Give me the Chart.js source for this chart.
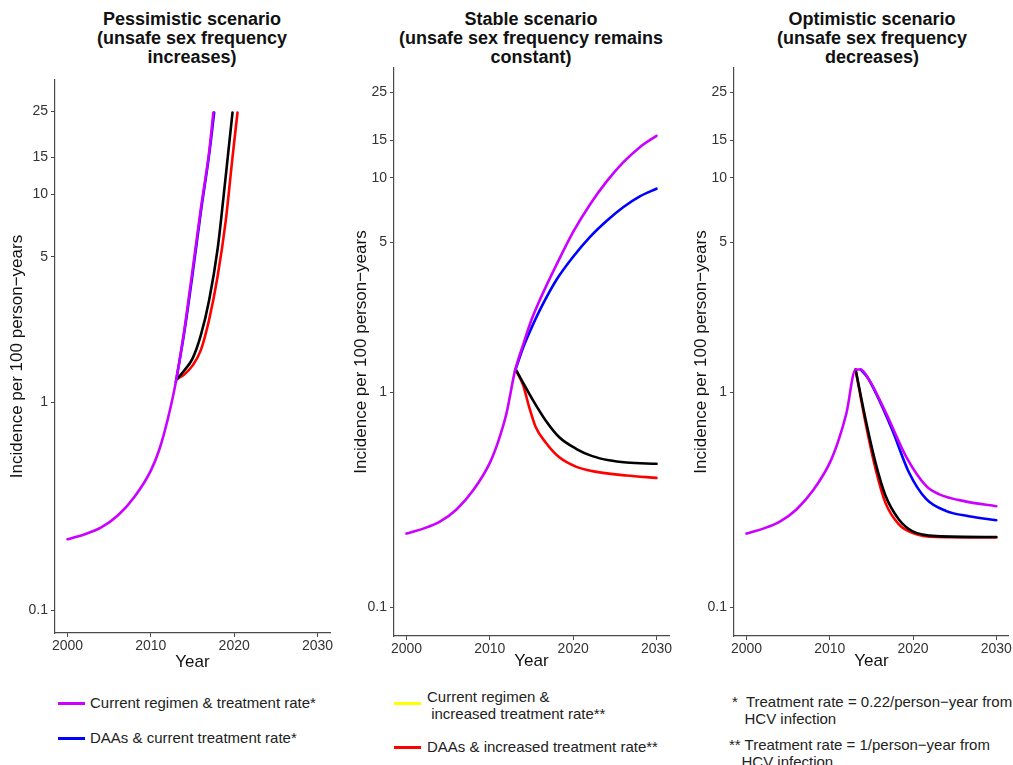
<!DOCTYPE html>
<html>
<head>
<meta charset="utf-8">
<script src="https://cdn.jsdelivr.net/npm/chart.js@4.4.1/dist/chart.umd.min.js"></script>
<style>
  body { margin: 0; background: #fff; font-family: "Liberation Sans", Arial, sans-serif; }
  #wrap { position: relative; width: 1013px; height: 765px; overflow: hidden; }
  canvas { position: absolute; }
  .ttl { position: absolute; top: 10px; width: 340px; text-align: center; font-weight: bold;
         font-size: 18px; line-height: 19px; color: #111; }
  .leg { position: absolute; font-size: 15px; line-height: 17px; color: #222; white-space: pre; }
  .sw { position: absolute; height: 2.5px; width: 27px; }
</style>
</head>
<body>
<div id="wrap">
  <div class="ttl" style="left:22px">Pessimistic scenario<br>(unsafe sex frequency<br>increases)</div>
  <div class="ttl" style="left:361px">Stable scenario<br>(unsafe sex frequency remains<br>constant)</div>
  <div class="ttl" style="left:702px">Optimistic scenario<br>(unsafe sex frequency<br>decreases)</div>

  <canvas id="pess" width="340" height="683" style="left:0;top:0"></canvas>
  <canvas id="stab" width="340" height="686" style="left:340px;top:0"></canvas>
  <canvas id="opti" width="333" height="686" style="left:680px;top:0"></canvas>

  <!-- legend, drawn as text like the original -->
  <div class="sw" style="left:58px;top:702px;background:#cc00ff"></div>
  <div class="leg" style="left:90px;top:694px">Current regimen &amp; treatment rate*</div>
  <div class="sw" style="left:58px;top:737px;background:#0000ff"></div>
  <div class="leg" style="left:90px;top:729px">DAAs &amp; current treatment rate*</div>

  <div class="sw" style="left:394px;top:702px;background:#ffff00"></div>
  <div class="leg" style="left:427px;top:688px">Current regimen &amp;
 increased treatment rate**</div>
  <div class="sw" style="left:394px;top:746px;background:#ff0000"></div>
  <div class="leg" style="left:427px;top:738px">DAAs &amp; increased treatment rate**</div>

  <div class="leg" style="left:732px;top:693px">*  Treatment rate = 0.22/person−year from
   HCV infection</div>
  <div class="leg" style="left:729px;top:736px">** Treatment rate = 1/person−year from
   HCV infection</div>
</div>

<script>
/* ---- data (incidence per 100 person-years) ---- */

// pessimistic
const pessPurpleYears = [2000, 2002, 2004, 2006, 2008, 2010, 2011, 2012, 2013, 2014, 2015, 2016, 2017, 2017.5];
const pessPurpleVals  = [0.22, 0.232, 0.25, 0.285, 0.35, 0.47, 0.59, 0.82, 1.25, 2.2, 4.3, 8.5, 16, 24.6];
const pessBlueYears   = [2013, 2014, 2015, 2016, 2017, 2017.6];
const pessBlueVals    = [1.25, 2.15, 4.1, 8.2, 15.5, 24.6];
const pessBlackYears  = [2013.2, 2014, 2015, 2016, 2017, 2018, 2018.7, 2019.3, 2019.8];
const pessBlackVals   = [1.3, 1.42, 1.62, 2.1, 3.1, 5.4, 9.5, 16, 24.6];
const pessRedYears    = [2013.2, 2014, 2015, 2016, 2017, 2018, 2019, 2019.8, 2020.4];
const pessRedVals     = [1.3, 1.36, 1.5, 1.78, 2.5, 4.0, 7.5, 15, 24.6];

// stable
const stabPurpleYears = [2000, 2002, 2004, 2006, 2008, 2010, 2011, 2012, 2013, 2014, 2015, 2016, 2018, 2020, 2022, 2024, 2026, 2028, 2030];
const stabPurpleVals  = [0.22, 0.232, 0.25, 0.285, 0.35, 0.47, 0.59, 0.8, 1.25, 1.67, 2.18, 2.7, 3.94, 5.6, 7.5, 9.6, 11.8, 13.9, 15.7];
const stabBlueYears   = [2013, 2014, 2015, 2016, 2018, 2020, 2022, 2024, 2026, 2028, 2030];
const stabBlueVals    = [1.25, 1.62, 2.0, 2.42, 3.35, 4.29, 5.3, 6.3, 7.3, 8.2, 8.9];
const stabBlackYears  = [2013.1, 2014.1, 2015.1, 2016.7, 2018.3, 2020.4, 2022.3, 2024.3, 2026.4, 2030];
const stabBlackVals   = [1.28, 1.09, 0.93, 0.74, 0.62, 0.545, 0.505, 0.483, 0.472, 0.465];
const stabRedYears    = [2013.1, 2014, 2014.7, 2015.5, 2016.7, 2018.3, 2020.4, 2022.3, 2026.4, 2030];
const stabRedVals     = [1.28, 1.08, 0.86, 0.69, 0.585, 0.5, 0.45, 0.43, 0.41, 0.4];

// optimistic
const optiPurpleYears = [2000, 2002, 2004, 2006, 2008, 2010, 2011, 2012, 2013.1, 2013.7, 2014.7, 2016.7, 2019.2, 2021.6, 2023.1, 2026.4, 2030];
const optiPurpleVals  = [0.22, 0.232, 0.25, 0.285, 0.35, 0.47, 0.59, 0.8, 1.28, 1.28, 1.15, 0.81, 0.5, 0.366, 0.336, 0.31, 0.295];
const optiBlueYears   = [2013.7, 2014.5, 2015.5, 2017.5, 2019.5, 2021.6, 2024, 2026.7, 2030];
const optiBlueVals    = [1.28, 1.18, 1.0, 0.67, 0.425, 0.318, 0.28, 0.265, 0.254];
const optiBlackYears  = [2013.1, 2014.3, 2015.5, 2016.7, 2018.3, 2019.9, 2022.8, 2030];
const optiBlackVals   = [1.28, 0.75, 0.47, 0.33, 0.256, 0.226, 0.214, 0.212];
const optiRedYears    = [2013.1, 2014.3, 2015.5, 2016.7, 2018.3, 2019.9, 2022.8, 2030];
const optiRedVals     = [1.28, 0.72, 0.44, 0.305, 0.243, 0.222, 0.212, 0.211];

const xTicks = [2000, 2010, 2020, 2030];
const yTicks = [0.1, 1, 5, 10, 15, 25];

/* ---- helpers ---- */
function pts(xs, ys) {
  return xs.map((x, i) => ({ x: x, y: ys[i] }));
}

function line(data, color) {
  return {
    data: data,
    borderColor: color,
    borderWidth: 2.6,
    pointRadius: 0,
    fill: false,
    cubicInterpolationMode: 'monotone',
    borderCapStyle: 'round'
  };
}

const axisColor = '#4a4a4a';
const tickFont = { family: '"Liberation Sans", Arial, sans-serif', size: 14 };
const titleFont = { family: '"Liberation Sans", Arial, sans-serif', size: 17 };

function makePanel(id, sets, cfg) {
  return new Chart(document.getElementById(id), {
    type: 'line',
    data: { datasets: sets },
    options: {
      responsive: false,
      animation: false,
      devicePixelRatio: 1,
      layout: { autoPadding: false, padding: { top: cfg.top, right: cfg.right, left: 0, bottom: 0 } },
      plugins: { legend: { display: false }, tooltip: { enabled: false } },
      scales: {
        x: {
          type: 'linear',
          min: 1998.5,
          max: 2031.5,
          afterBuildTicks: s => { s.ticks = xTicks.map(v => ({ value: v })); },
          afterFit: s => { s.height = cfg.xh; },
          ticks: { callback: v => String(v), color: '#333', font: tickFont, padding: 1, maxRotation: 0 },
          grid: { drawOnChartArea: false, drawTicks: true, tickLength: 4, color: axisColor },
          border: { display: true, color: axisColor, width: 1.2 },
          title: { display: true, text: 'Year', color: '#111', font: titleFont, padding: { top: 0, bottom: cfg.xPad } }
        },
        y: {
          type: 'logarithmic',
          min: cfg.yMin,
          max: cfg.yMax,
          afterBuildTicks: s => { s.ticks = yTicks.map(v => ({ value: v })); },
          afterFit: s => { s.width = cfg.yw; },
          ticks: { callback: v => String(v), color: '#333', font: tickFont, padding: 3 },
          grid: { drawOnChartArea: false, drawTicks: true, tickLength: 4, color: axisColor },
          border: { display: true, color: axisColor, width: 1.2 },
          title: { display: true, text: 'Incidence per 100 person−years', color: '#111', font: titleFont, padding: { top: cfg.yPad, bottom: 0 } }
        }
      }
    }
  });
}

/* purple first so it is drawn on top, red last */
makePanel('pess', [
  line(pts(pessPurpleYears, pessPurpleVals), '#cc00ff'),
  line(pts(pessBlueYears, pessBlueVals), '#0000ff'),
  line(pts(pessBlackYears, pessBlackVals), '#000000'),
  line(pts(pessRedYears, pessRedVals), '#ff0000')
], { top: 80, right: 10, yw: 55, xh: 50, yMin: 0.078, yMax: 35.3, yPad: 7, xPad: 10 });

makePanel('stab', [
  line(pts(stabPurpleYears, stabPurpleVals), '#cc00ff'),
  line(pts(stabBlueYears, stabBlueVals), '#0000ff'),
  line(pts(stabBlackYears, stabBlackVals), '#000000'),
  line(pts(stabRedYears, stabRedVals), '#ff0000')
], { top: 68, right: 11, yw: 54, xh: 50, yMin: 0.0733, yMax: 32.5, yPad: 11, xPad: 14 });

makePanel('opti', [
  line(pts(optiPurpleYears, optiPurpleVals), '#cc00ff'),
  line(pts(optiBlueYears, optiBlueVals), '#0000ff'),
  line(pts(optiBlackYears, optiBlackVals), '#000000'),
  line(pts(optiRedYears, optiRedVals), '#ff0000')
], { top: 68, right: 3, yw: 54, xh: 50, yMin: 0.0733, yMax: 32.5, yPad: 11, xPad: 14 });
</script>
</body>
</html>
